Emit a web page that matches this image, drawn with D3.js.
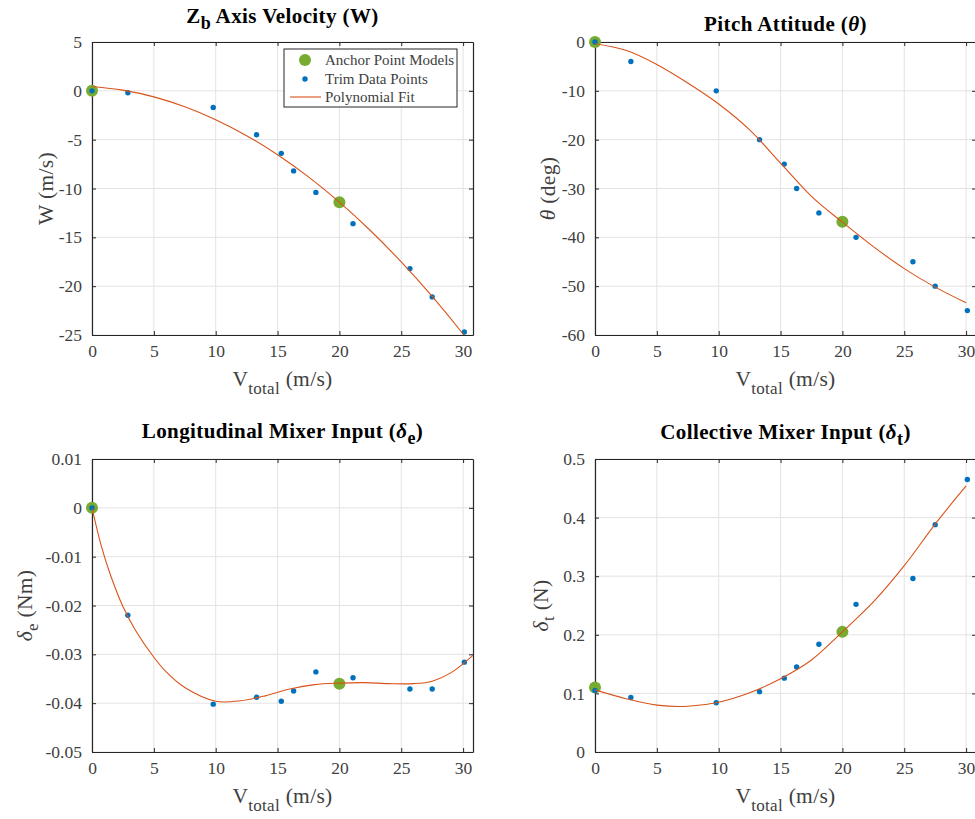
<!DOCTYPE html>
<html>
<head>
<meta charset="utf-8">
<script src="https://cdn.jsdelivr.net/npm/d3@7"></script>
<style>
  html, body { margin: 0; padding: 0; background: #fff; }
  svg { display: block; font-family: "Liberation Serif", "DejaVu Serif", serif; }
</style>
</head>
<body>
<svg id="chart" width="975" height="819"></svg>
<script>
// ---------------- DATA ----------------
const xTicks = [0, 5, 10, 15, 20, 25, 30];
const trimV = [0, 2.9, 9.8, 13.3, 15.3, 16.3, 18.1, 21.1, 25.7, 27.5, 30.1];
const anchorV = [0, 20];

// Z_b axis velocity W (m/s)
const wTrim = [0, -0.2, -1.7, -4.5, -6.4, -8.2, -10.4, -13.6, -18.2, -21.1, -24.7];
const wAnchor = [0, -11.4];
const wFitV = [0, 2.5, 5, 7.5, 10, 12.5, 15, 17.5, 20, 22.5, 25, 27.5, 30, 30.3];
const wFit = [0.45, 0.07, -0.62, -1.63, -2.95, -4.59, -6.54, -8.81, -11.4, -14.3, -17.52, -21.05, -24.9, -25.4];
const wTicks = [-25, -20, -15, -10, -5, 0, 5];

// Pitch attitude theta (deg)
const thTrim = [0, -4, -10, -20, -25, -30, -35, -40, -45, -50, -55];
const thAnchor = [0, -36.8];
const thFitV = [0, 2.5, 5, 7.5, 10, 12.5, 15, 17.5, 20, 22.5, 25, 27.5, 30];
const thFit = [-0.35, -1.7, -4.6, -8.4, -12.7, -18.0, -24.8, -31.6, -36.9, -41.9, -46.4, -50.2, -53.4];
const thTicks = [-60, -50, -40, -30, -20, -10, 0];

// Longitudinal mixer input delta_e (Nm)
const deTrim = [0, -0.022, -0.0402, -0.0388, -0.0396, -0.0375, -0.0336, -0.0348, -0.0371, -0.0371, -0.0316];
const deAnchor = [0, -0.036];
const deFitV = [0, 0.75, 1.5, 2.5, 3.5, 5, 6, 7.5, 10, 12, 14, 16, 18, 20, 22, 24, 26, 27.5, 29, 30.8];
const deFit = [0, -0.0078, -0.0138, -0.0202, -0.025, -0.0306, -0.0336, -0.0368, -0.0396, -0.0395, -0.0385, -0.0371, -0.0362, -0.0359, -0.0358, -0.036, -0.036, -0.0355, -0.0338, -0.0302];
const deTicks = [-0.05, -0.04, -0.03, -0.02, -0.01, 0, 0.01];

// Collective mixer input delta_t (N)
const dtTrim = [0.105, 0.093, 0.084, 0.103, 0.126, 0.145, 0.184, 0.252, 0.296, 0.388, 0.465];
const dtAnchor = [0.11, 0.205];
const dtFitV = [0, 2.5, 5, 7.5, 10, 12.5, 15, 17.5, 20, 22.5, 25, 27.5, 30];
const dtFit = [0.106, 0.091, 0.080, 0.078, 0.085, 0.101, 0.125, 0.157, 0.205, 0.256, 0.318, 0.389, 0.454];
const dtTicks = [0, 0.1, 0.2, 0.3, 0.4, 0.5];

const legendLabels = ["Anchor Point Models", "Trim Data Points", "Polynomial Fit"];

// ---------------- STYLE ----------------
const C_ANCHOR = "#77AC30", C_TRIM = "#0072BD", C_FIT = "#D95319";
const C_AXIS = "#262626", C_GRID = "#e3e3e3", C_TICK = "#404040";
const F_TICK = 17.5, F_TITLE = 21, F_LAB = 21.5, F_LEG = 15;

const svg = d3.select("#chart");

const panels = [
  { left: 92, top: 42, yDomain: [-25, 5], yTicks: wTicks, trim: wTrim, anchor: wAnchor, fitV: wFitV, fit: wFit,
    title: [{t: "Z"}, {t: "b", sub: true}, {t: " Axis Velocity (W)"}], titleDy: -19,
    ylab: [{t: "W (m/s)"}], ylabDx: -39, legend: true },
  { left: 595, top: 42, yDomain: [-60, 0], yTicks: thTicks, trim: thTrim, anchor: thAnchor, fitV: thFitV, fit: thFit,
    title: [{t: "Pitch Attitude ("}, {t: "θ", it: true}, {t: ")"}], titleDy: -11,
    ylab: [{t: "θ", it: true}, {t: " (deg)"}], ylabDx: -40 },
  { left: 92, top: 459, yDomain: [-0.05, 0.01], yTicks: deTicks, trim: deTrim, anchor: deAnchor, fitV: deFitV, fit: deFit,
    title: [{t: "Longitudinal Mixer Input ("}, {t: "δ", it: true}, {t: "e", sub: true}, {t: ")"}], titleDy: -21,
    ylab: [{t: "δ", it: true}, {t: "e", sub: true}, {t: " (Nm)"}], ylabDx: -60 },
  { left: 595, top: 459, yDomain: [0, 0.5], yTicks: dtTicks, trim: dtTrim, anchor: dtAnchor, fitV: dtFitV, fit: dtFit,
    title: [{t: "Collective Mixer Input ("}, {t: "δ", it: true}, {t: "t", sub: true}, {t: ")"}], titleDy: -20,
    ylab: [{t: "δ", it: true}, {t: "t", sub: true}, {t: " (N)"}], ylabDx: -47 }
];

const W = 381, H = 293;

function addRich(sel, segs, subSize, subShift) {
  let shifted = false;
  segs.forEach(s => {
    const ts = sel.append("tspan").text(s.t);
    if (s.it) ts.attr("font-style", "italic");
    if (s.sub) {
      ts.attr("font-size", subSize).attr("dy", subShift);
      shifted = true;
    } else if (shifted) {
      ts.attr("dy", -subShift);
      shifted = false;
    }
  });
}

function fmt(v) {
  const s = d3.format("~g")(+v.toFixed(6));
  return s.replace("−", "-");
}

panels.forEach(p => {
  const x = d3.scaleLinear().domain([0, 30.8]).range([p.left, p.left + W]);
  const y = d3.scaleLinear().domain(p.yDomain).range([p.top + H, p.top]);
  const g = svg.append("g");

  // grid
  g.append("g").selectAll("line").data(xTicks).join("line")
    .attr("x1", d => x(d)).attr("x2", d => x(d)).attr("y1", p.top).attr("y2", p.top + H)
    .attr("stroke", C_GRID).attr("stroke-width", 1);
  g.append("g").selectAll("line").data(p.yTicks).join("line")
    .attr("y1", d => y(d)).attr("y2", d => y(d)).attr("x1", p.left).attr("x2", p.left + W)
    .attr("stroke", C_GRID).attr("stroke-width", 1);

  // axes (ticks inward)
  const ax = g.append("g").attr("transform", `translate(0,${p.top + H})`)
    .call(d3.axisBottom(x).tickValues(xTicks).tickSizeInner(-4).tickSizeOuter(0).tickPadding(10).tickFormat(fmt));
  const axT = g.append("g").attr("transform", `translate(0,${p.top})`)
    .call(d3.axisTop(x).tickValues(xTicks).tickSizeInner(-4).tickSizeOuter(0).tickFormat(""));
  const ay = g.append("g").attr("transform", `translate(${p.left},0)`)
    .call(d3.axisLeft(y).tickValues(p.yTicks).tickSizeInner(-4).tickSizeOuter(0).tickPadding(10).tickFormat(fmt));
  const ayR = g.append("g").attr("transform", `translate(${p.left + W},0)`)
    .call(d3.axisRight(y).tickValues(p.yTicks).tickSizeInner(-4).tickSizeOuter(0).tickFormat(""));
  [ax, axT, ay, ayR].forEach(a => {
    a.select(".domain").attr("stroke", C_AXIS).attr("stroke-width", 1.2);
    a.selectAll(".tick line").attr("stroke", C_AXIS);
    a.selectAll("text").attr("font-family", "Liberation Serif, serif").attr("font-size", F_TICK).attr("fill", C_TICK);
  });

  // clip for fit line
  const cid = "clip" + p.left + "_" + p.top;
  svg.append("clipPath").attr("id", cid).append("rect")
    .attr("x", p.left).attr("y", p.top).attr("width", W).attr("height", H);

  // anchor points
  g.append("g").selectAll("circle").data(anchorV.map((v, i) => [v, p.anchor[i]])).join("circle")
    .attr("cx", d => x(d[0])).attr("cy", d => y(d[1])).attr("r", 6).attr("fill", C_ANCHOR);
  // trim points
  g.append("g").selectAll("circle").data(trimV.map((v, i) => [v, p.trim[i]])).join("circle")
    .attr("cx", d => x(d[0])).attr("cy", d => y(d[1])).attr("r", 2.7).attr("fill", C_TRIM);
  // fit
  const line = d3.line().x(d => x(d[0])).y(d => y(d[1])).curve(d3.curveCatmullRom.alpha(0.5));
  g.append("path").datum(p.fitV.map((v, i) => [v, p.fit[i]]))
    .attr("clip-path", `url(#${cid})`)
    .attr("d", line).attr("fill", "none").attr("stroke", C_FIT).attr("stroke-width", 1.1);

  // title
  const tt = svg.append("text").attr("x", p.left + W / 2).attr("y", p.top + p.titleDy)
    .attr("text-anchor", "middle").attr("font-weight", "bold").attr("font-size", F_TITLE)
    .attr("letter-spacing", 0.4).attr("fill", "#000");
  addRich(tt, p.title, 18, 6);

  // x label
  const xl = svg.append("text").attr("x", p.left + W / 2).attr("y", p.top + H + 51)
    .attr("text-anchor", "middle").attr("font-size", F_LAB).attr("letter-spacing", 0.3).attr("fill", C_TICK);
  addRich(xl, [{t: "V"}, {t: "total", sub: true}, {t: " (m/s)"}], 17, 8);

  // y label
  const yl = svg.append("text")
    .attr("transform", `translate(${p.left + p.ylabDx},${p.top + H / 2}) rotate(-90)`)
    .attr("text-anchor", "middle").attr("font-size", F_LAB).attr("letter-spacing", 0.3).attr("fill", C_TICK);
  addRich(yl, p.ylab, 17, 6);

  // legend
  if (p.legend) {
    const lg = svg.append("g");
    lg.append("rect").attr("x", 284).attr("y", 49).attr("width", 173).attr("height", 58)
      .attr("fill", "#fff").attr("stroke", C_AXIS).attr("stroke-width", 1);
    const rows = [60, 79, 97];
    lg.append("circle").attr("cx", 305).attr("cy", rows[0]).attr("r", 6).attr("fill", C_ANCHOR);
    lg.append("circle").attr("cx", 305).attr("cy", rows[1]).attr("r", 2.7).attr("fill", C_TRIM);
    lg.append("line").attr("x1", 290).attr("x2", 321).attr("y1", rows[2]).attr("y2", rows[2])
      .attr("stroke", C_FIT).attr("stroke-width", 1.1);
    lg.selectAll("text").data(legendLabels).join("text")
      .attr("x", 325).attr("y", (d, i) => rows[i] + 5).attr("font-size", F_LEG).attr("fill", C_TICK).text(d => d);
  }
});
</script>
</body>
</html>
